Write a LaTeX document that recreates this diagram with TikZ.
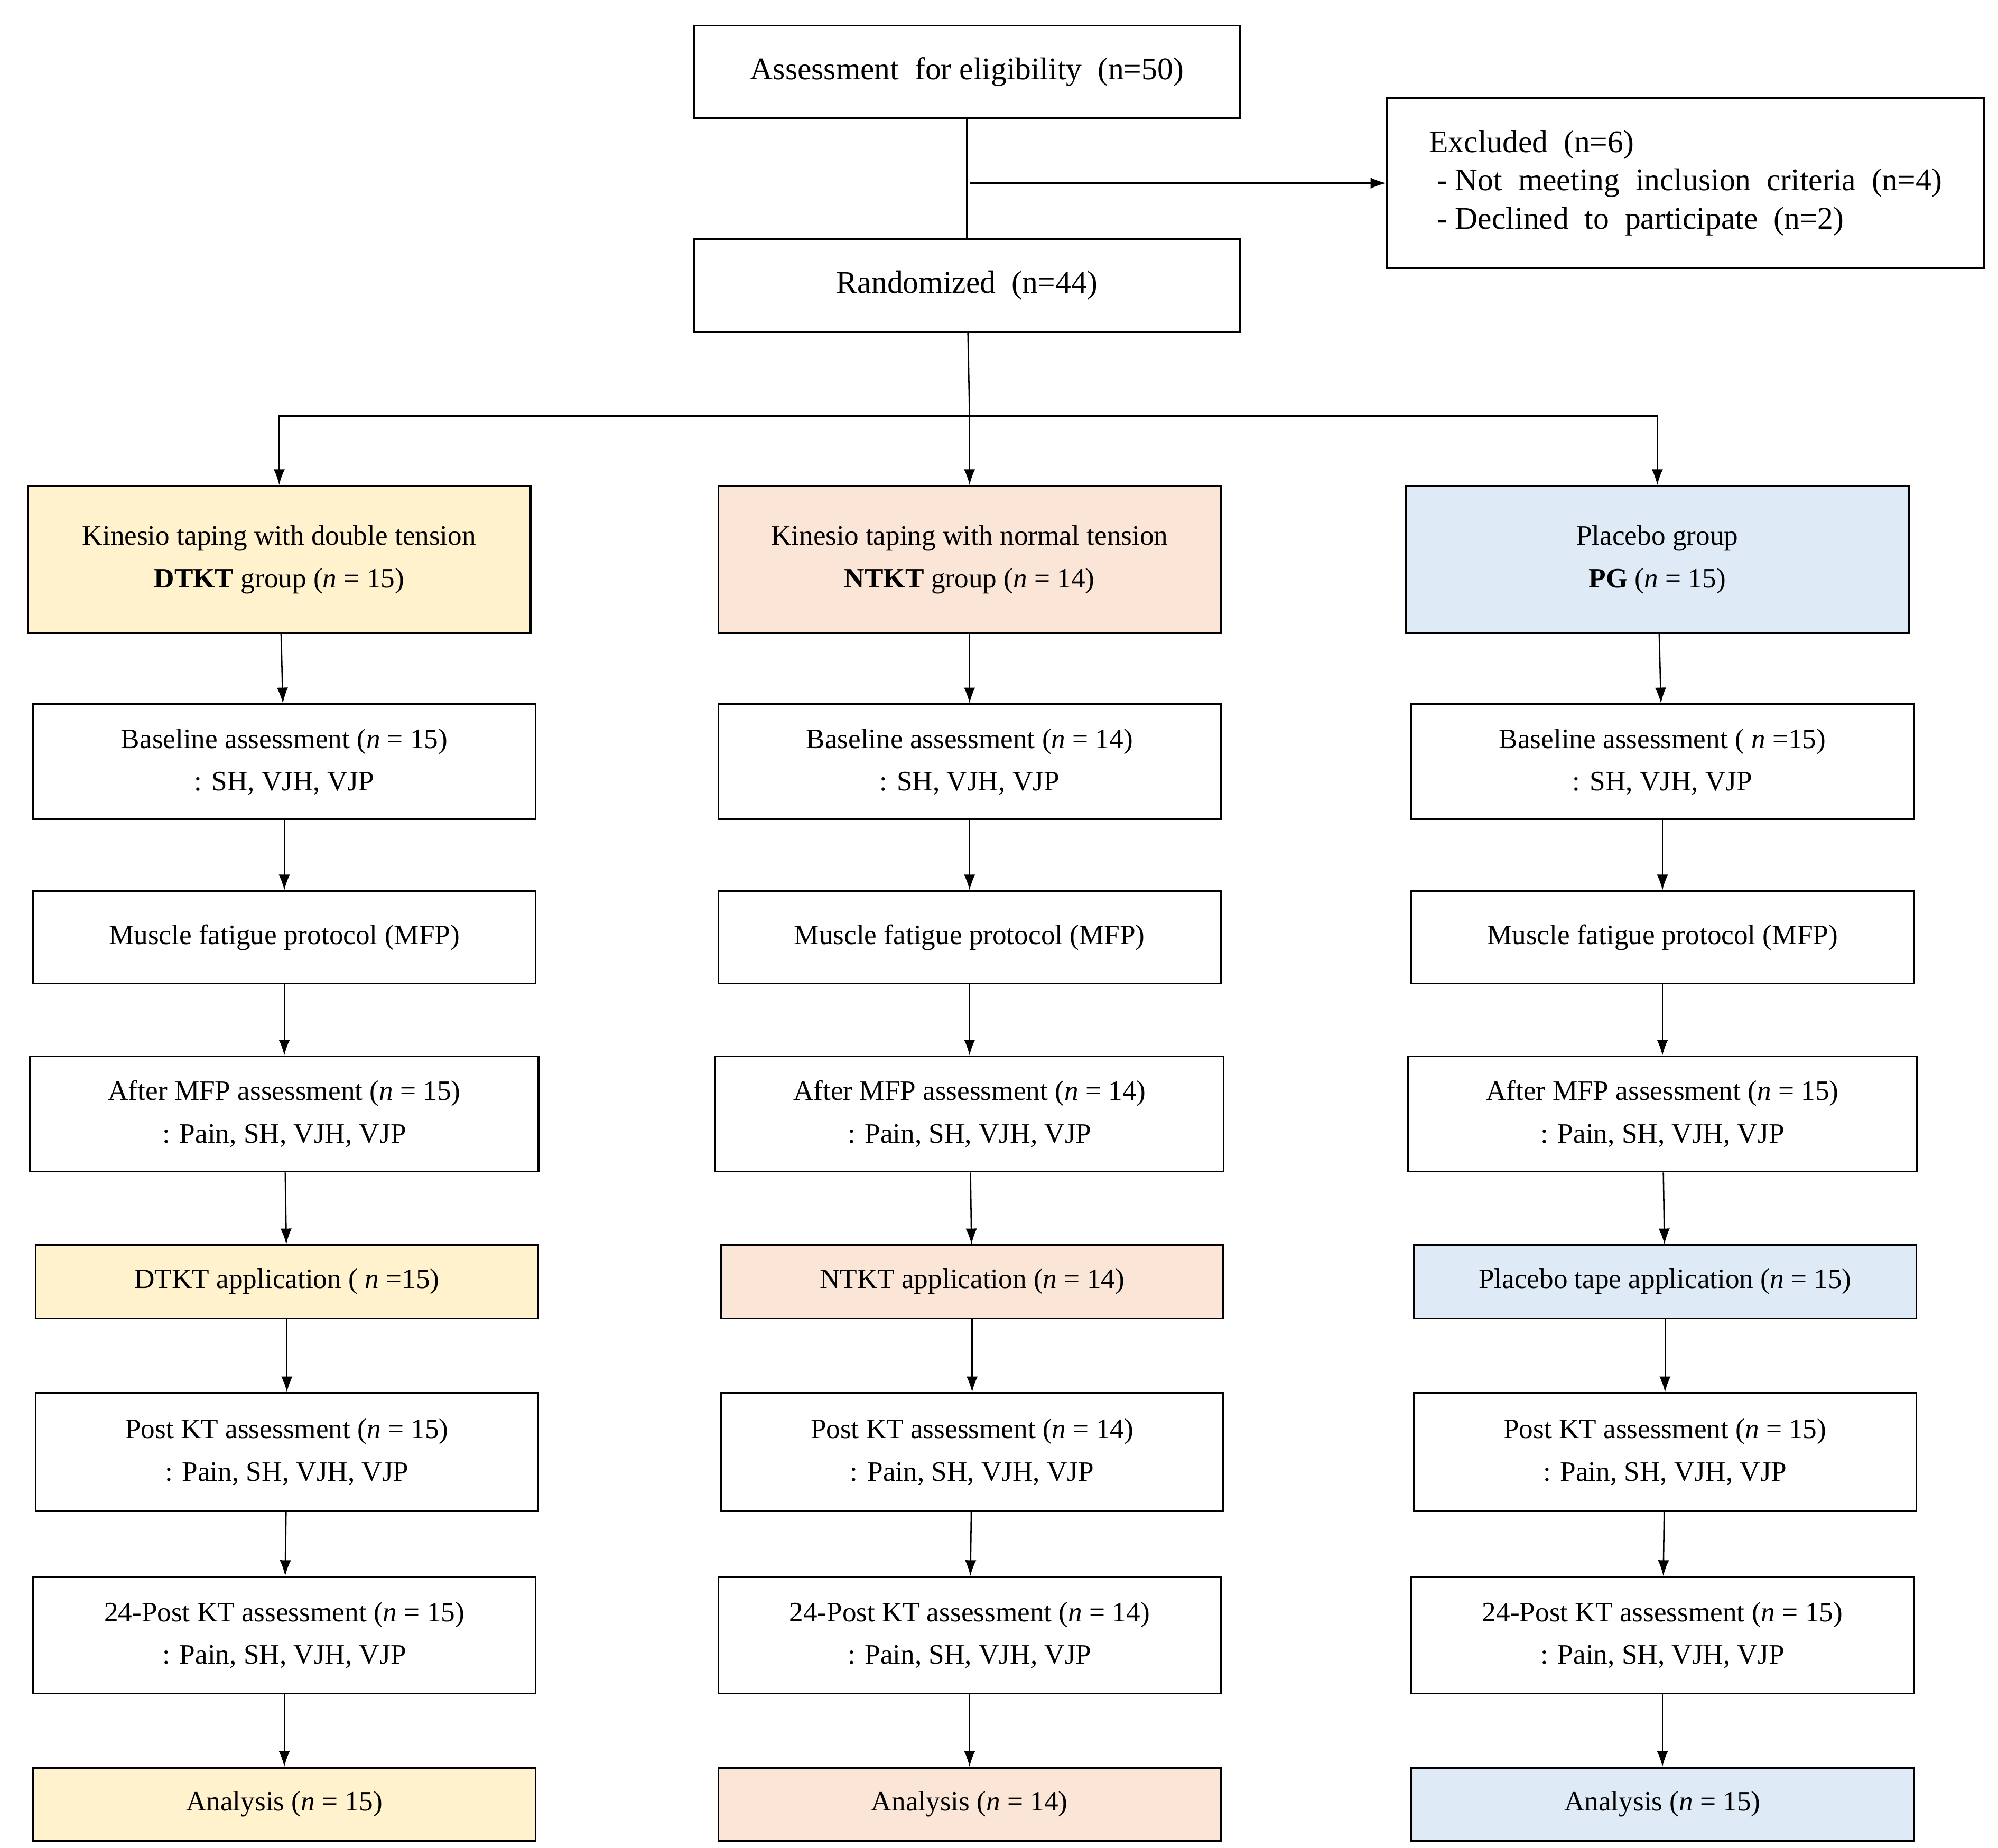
\documentclass[tikz,border=0pt]{standalone}
\usepackage{fontspec}
\setmainfont{Liberation Serif}
\usetikzlibrary{arrows.meta}
\definecolor{dtkt}{HTML}{FFF2CC}
\definecolor{ntkt}{HTML}{FBE5D6}
\definecolor{plac}{HTML}{DEEBF7}
\tikzset{
  box/.style={draw, rectangle, line width=0.8pt, minimum width=7.85cm, align=center,
    font=\fontsize{12.5}{19}\selectfont, inner sep=2pt},
  arr/.style={-{Latex[length=7pt,width=5pt]}, line width=0.6pt}
}
\newcommand{\nn}{\textit{n}}
\begin{document}
\begin{tikzpicture}[x=0.02cm, y=-0.02cm]
\useasboundingbox (0,0) rectangle (1560,1443);
\node[box, minimum width=8.52cm, minimum height=1.44cm, font=\fontsize{14}{17}\selectfont] (elig) at (755,56) {Assessment\ \ for eligibility\ \ (n=50)};
\node[box, minimum width=9.32cm, minimum height=2.66cm, align=left, font=\fontsize{14}{17}\selectfont] (excl) at (1316,143) {Excluded\ \ (n=6)\\ \ - Not\ \ meeting\ \ inclusion\ \ criteria\ \ (n=4)\\ \ - Declined\ \ to\ \ participate\ \ (n=2)};
\node[box, minimum width=8.52cm, minimum height=1.46cm, font=\fontsize{14}{17}\selectfont] (rand) at (755,223) {Randomized\ \ (n=44)};
\coordinate (ex) at (757,143);
\coordinate (br) at (757,325);

% group boxes
\node[box, fill=dtkt, minimum height=2.3cm] (d1) at (218,437) {Kinesio taping with double tension\\\textbf{DTKT} group (\nn{} = 15)};
\node[box, fill=ntkt, minimum height=2.3cm] (n1) at (757,437) {Kinesio taping with normal tension\\\textbf{NTKT} group (\nn{} = 14)};
\node[box, fill=plac, minimum height=2.3cm] (p1) at (1294,437) {Placebo group\\\textbf{PG} (\nn{} = 15)};

\node[box, minimum height=1.8cm] (d2) at (222,595) {Baseline assessment (\nn{} = 15)\\: SH, VJH, VJP};
\node[box, minimum height=1.8cm] (n2) at (757,595) {Baseline assessment (\nn{} = 14)\\: SH, VJH, VJP};
\node[box, minimum height=1.8cm] (p2) at (1298,595) {Baseline assessment ( \nn{} =15)\\: SH, VJH, VJP};

\node[box, minimum height=1.44cm] (d3) at (222,732) {Muscle fatigue protocol (MFP)};
\node[box, minimum height=1.44cm] (n3) at (757,732) {Muscle fatigue protocol (MFP)};
\node[box, minimum height=1.44cm] (p3) at (1298,732) {Muscle fatigue protocol (MFP)};

\node[box, minimum width=7.94cm, minimum height=1.8cm] (d4) at (222,870) {After MFP assessment (\nn{} = 15)\\: Pain, SH, VJH, VJP};
\node[box, minimum width=7.94cm, minimum height=1.8cm] (n4) at (757,870) {After MFP assessment (\nn{} = 14)\\: Pain, SH, VJH, VJP};
\node[box, minimum width=7.94cm, minimum height=1.8cm] (p4) at (1298,870) {After MFP assessment (\nn{} = 15)\\: Pain, SH, VJH, VJP};

\node[box, fill=dtkt, minimum height=1.14cm] (d5) at (224,1001) {DTKT application ( \nn{} =15)};
\node[box, fill=ntkt, minimum height=1.14cm] (n5) at (759,1001) {NTKT application (\nn{} = 14)};
\node[box, fill=plac, minimum height=1.14cm] (p5) at (1300,1001) {Placebo tape application (\nn{} = 15)};

\node[box, minimum height=1.84cm] (d6) at (224,1134) {Post KT assessment (\nn{} = 15)\\: Pain, SH, VJH, VJP};
\node[box, minimum height=1.84cm] (n6) at (759,1134) {Post KT assessment (\nn{} = 14)\\: Pain, SH, VJH, VJP};
\node[box, minimum height=1.84cm] (p6) at (1300,1134) {Post KT assessment (\nn{} = 15)\\: Pain, SH, VJH, VJP};

\node[box, minimum height=1.82cm] (d7) at (222,1277) {24-Post KT assessment (\nn{} = 15)\\: Pain, SH, VJH, VJP};
\node[box, minimum height=1.82cm] (n7) at (757,1277) {24-Post KT assessment (\nn{} = 14)\\: Pain, SH, VJH, VJP};
\node[box, minimum height=1.82cm] (p7) at (1298,1277) {24-Post KT assessment (\nn{} = 15)\\: Pain, SH, VJH, VJP};

\node[box, fill=dtkt, minimum height=1.14cm] (d8) at (222,1409) {Analysis (\nn{} = 15)};
\node[box, fill=ntkt, minimum height=1.14cm] (n8) at (757,1409) {Analysis (\nn{} = 14)};
\node[box, fill=plac, minimum height=1.14cm] (p8) at (1298,1409) {Analysis (\nn{} = 15)};

\draw[line width=0.8pt] (elig) -- (rand);
\draw[arr] (ex) -- (excl);
\draw[line width=0.6pt] (rand) -- (br);
\draw[arr] (br) -| (d1);
\draw[arr] (br) -- (n1);
\draw[arr] (br) -| (p1);

\draw[arr] (d1) -- (d2);  \draw[arr] (n1) -- (n2);  \draw[arr] (p1) -- (p2);
\draw[arr] (d2) -- (d3);  \draw[arr] (n2) -- (n3);  \draw[arr] (p2) -- (p3);
\draw[arr] (d3) -- (d4);  \draw[arr] (n3) -- (n4);  \draw[arr] (p3) -- (p4);
\draw[arr] (d4) -- (d5);  \draw[arr] (n4) -- (n5);  \draw[arr] (p4) -- (p5);
\draw[arr] (d5) -- (d6);  \draw[arr] (n5) -- (n6);  \draw[arr] (p5) -- (p6);
\draw[arr] (d6) -- (d7);  \draw[arr] (n6) -- (n7);  \draw[arr] (p6) -- (p7);
\draw[arr] (d7) -- (d8);  \draw[arr] (n7) -- (n8);  \draw[arr] (p7) -- (p8);
\end{tikzpicture}
\end{document}
